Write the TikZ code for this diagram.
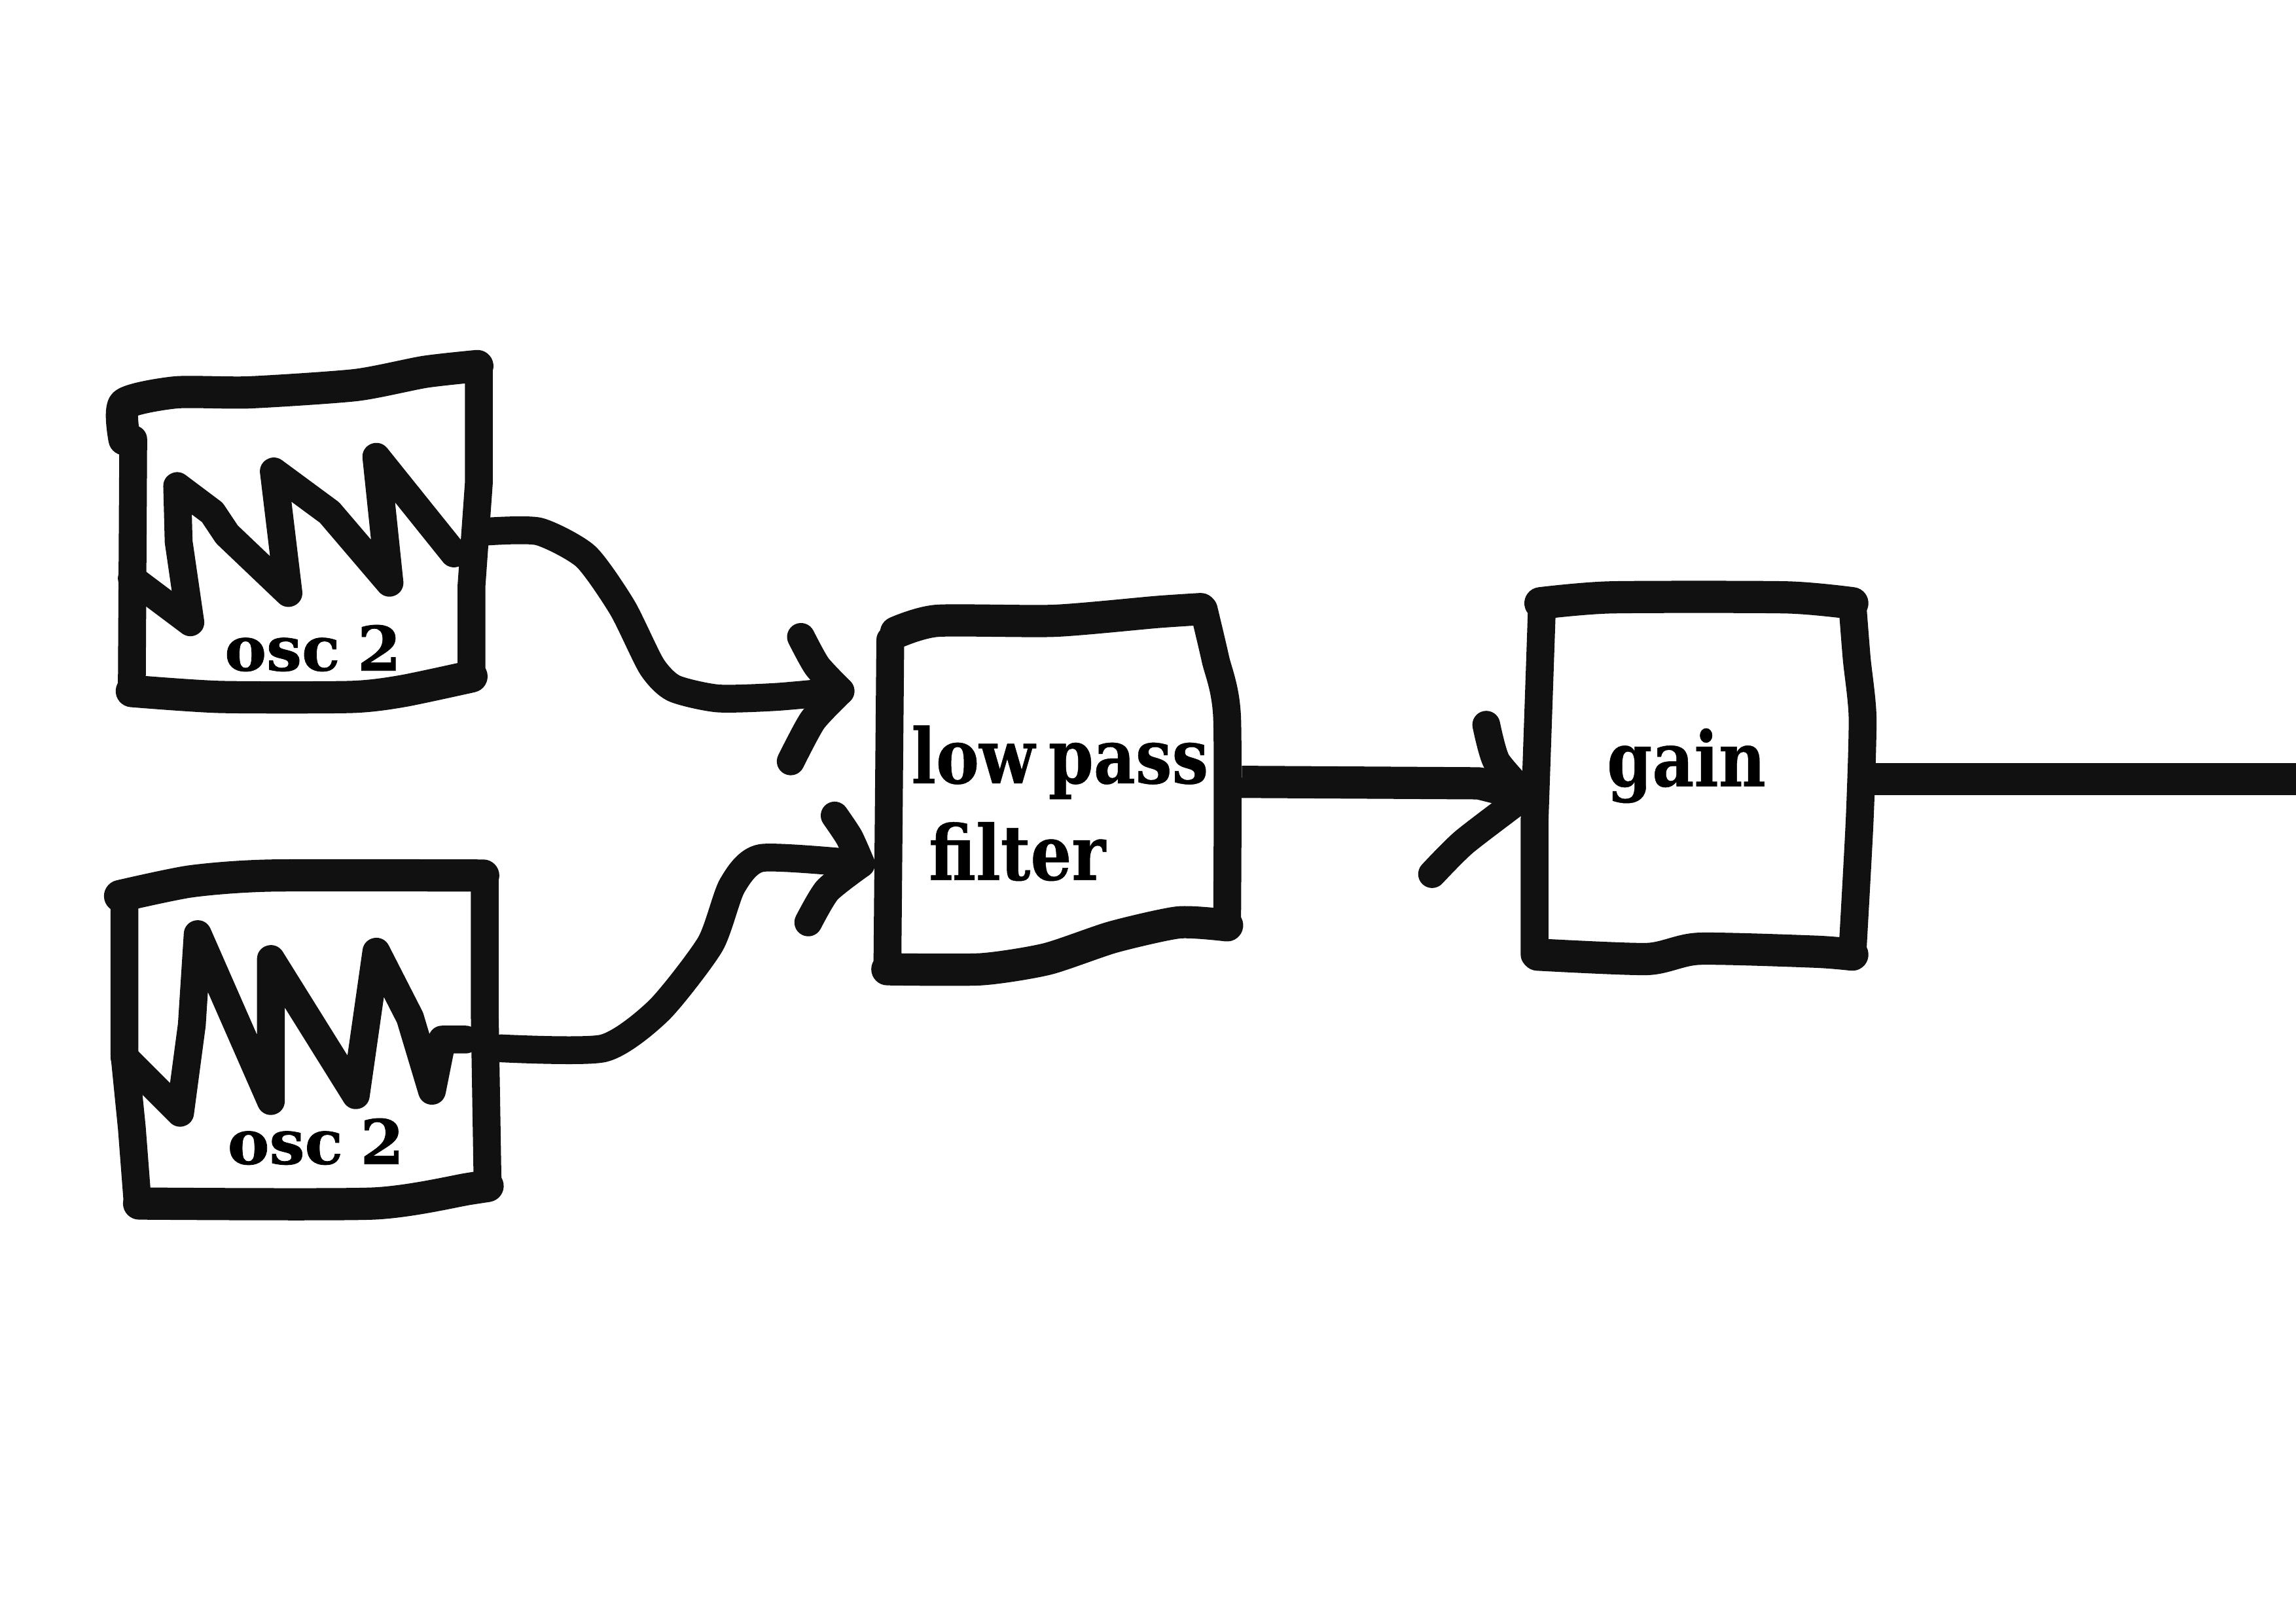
\documentclass[tikz,border=0pt]{standalone}
\usepackage{fontspec}
\setmainfont{DejaVu Serif}
\newfontfamily\slabfont[FakeStretch=0.85, WordSpace=0.6, FakeBold=0.4]{DejaVu Serif}
\newfontfamily\wideslab[FakeStretch=1.02, WordSpace=0.8, FakeBold=0.8]{DejaVu Serif}
\definecolor{ink}{HTML}{111111}

\begin{document}
\begin{tikzpicture}[x=0.5pt, y=-0.5pt]
  \useasboundingbox (0,0) rectangle (1568,1108.4);
  \begin{scope} [
    every node/.style={anchor=base west, inner sep=0pt, text=black},
    sketch/.style={draw=ink, line width=9.5pt, line join=round, line cap=round},
    flat/.style={sketch, line width=11pt},
    wave/.style={smooth, tension=0.4},
    title/.style={font=\slabfont\bfseries\fontsize{26}{26}\selectfont},
    osclabel/.style={font=\wideslab\bfseries\fontsize{21}{21}\selectfont}]
    % boxes
    \draw [flat] plot [wave] coordinates {(85,300) (85,276) (120,268) (170,268) (243,263) (290,254) (326,250)}
      plot [wave] coordinates {(322,462) (275,472) (240,476) (150,476) (90,472)};
    \draw [sketch] (327,252) -- (327,330) -- (322,400) -- (322,462)  (90,472) -- (91,300);
    \draw [flat] plot [wave] coordinates {(82,612) (130,602) (185,598) (330,598)}
      plot [wave] coordinates {(333,810) (320,812) (255,822) (95,822)};
    \draw [sketch] (331,598) -- (331,690) -- (333,810)  (94,822) -- (90,770) -- (85,720) -- (85,618);
    \draw [flat] plot [wave] coordinates {(612,432) (640,424) (720,424) (790,418) (820,416)}
      plot [wave] coordinates {(838,632) (805,630) (760,640) (715,655) (670,662) (606,662)};
    \draw [sketch] plot [wave] coordinates {(822,416) (830,450) (838,490) (838,632)}  (606,662) -- (608,437);
    \draw [flat] plot [wave] coordinates {(1052,412) (1100,408) (1220,408) (1265,412)}
      plot [wave] coordinates {(1265,652) (1240,650) (1160,648) (1125,655) (1050,652)};
    \draw [sketch] plot [wave] coordinates {(1265,412) (1268,450) (1272,490) (1270,560) (1265,652)}
      (1048,652) -- (1048,560) -- (1053,415);
    % saw waves
    \draw [sketch] (90,395) -- (130,425) -- (122,370) -- (121,332) -- (145,350) -- (155,365) -- (197,405) -- (187,322) -- (225,350) -- (266,398) -- (257,312) -- (310,378);
    \draw [sketch] (85,722) -- (123,760) -- (131,700) -- (135,638) -- (185,752) -- (185,655) -- (243,748) -- (257,650) -- (280,695) -- (295,745) -- (302,710) -- (318,710);
    % labels
    \node [osclabel] (oscA) at (153,458) {osc 2};
    \node [osclabel] (oscB) at (155,795) {osc 2};
    \node [title] (lowpass) at (622,535) {low pass};
    \node [title] (filter) at (634,601) {filter};
    \node [title] (gain) at (1097,537) {gain};
    % connector ends
    \coordinate (oscAout) at (333,363);
    \coordinate (oscBout) at (342,716);
    \coordinate (filterinA) at (574,472);
    \coordinate (filterinB) at (588,590);
    \coordinate (filterout) at (848,534);
    \coordinate (gainin) at (1042,543);
    \coordinate (gainout) at (1275,532);
    \coordinate (speaker) at (1568,532);
    % connectors
    \draw [sketch] plot [wave] coordinates {(oscAout) (368,363) (400,380) (425,415) (445,455) (460,470) (490,477) (530,476) (filterinA)};
    \draw [sketch] plot [wave] coordinates {(547,435) (558,455) (filterinA)}
      plot [wave] coordinates {(filterinA) (555,492) (540,520)};
    \draw [sketch] plot [wave] coordinates {(oscBout) (412,716) (450,690) (485,645) (500,605) (520,586) (filterinB)};
    \draw [sketch] plot [wave] coordinates {(570,557) (580,572) (filterinB)}
      plot [wave] coordinates {(filterinB) (565,608) (552,630)};
    \draw [flat, line cap=butt] (filterout) -- (1010,535) -- (gainin);
    \draw [sketch] plot [wave] coordinates {(1015,495) (1022,520) (gainin)}
      plot [wave] coordinates {(gainin) (1000,575) (978,597)};
    \draw [flat, line cap=butt] (gainout) -- (speaker);
  \end{scope}
\end{tikzpicture}
\end{document}
